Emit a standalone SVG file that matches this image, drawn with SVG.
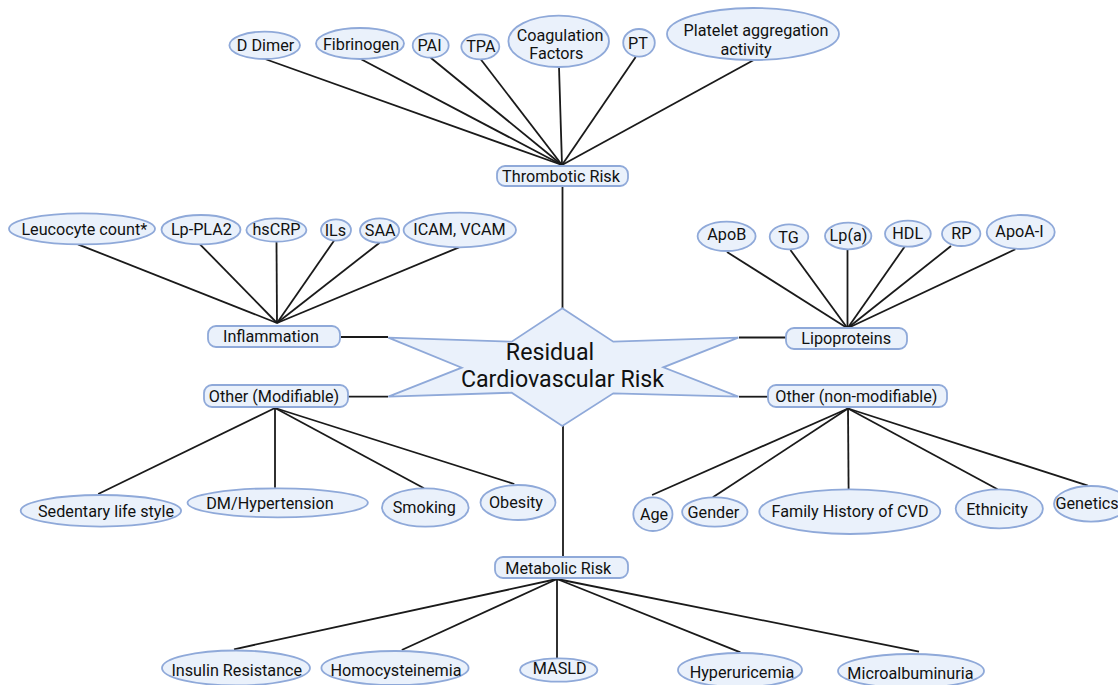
<svg xmlns="http://www.w3.org/2000/svg" width="1118" height="685" viewBox="0 0 1118 685">
<style>
.n{fill:#EAF1FB;stroke:#8FA9D9;stroke-width:1.8}
.t{font-family:Roboto,"Liberation Sans",sans-serif;font-size:16.2px;fill:#111;text-anchor:middle}
.big{font-family:Roboto,"Liberation Sans",sans-serif;font-size:23.2px;fill:#111;text-anchor:middle}
.c line{stroke:#1a1a1a;stroke-width:1.8}
</style>
<rect width="1118" height="685" fill="#fff"/>
<g class="c" id="connectors">
<line x1="265" y1="59" x2="562" y2="165"/>
<line x1="360.7" y1="59" x2="562" y2="165"/>
<line x1="430.7" y1="57.7" x2="562" y2="165"/>
<line x1="480.7" y1="59.3" x2="562" y2="165"/>
<line x1="559" y1="67" x2="562" y2="165"/>
<line x1="635.7" y1="57" x2="562" y2="165"/>
<line x1="753.3" y1="60.3" x2="562" y2="165"/>
<line x1="562.5" y1="186" x2="562.5" y2="308"/>
<line x1="78" y1="244.3" x2="277" y2="323"/>
<line x1="200" y1="244.3" x2="277" y2="323"/>
<line x1="276.5" y1="241.7" x2="277" y2="323"/>
<line x1="334" y1="240.7" x2="277" y2="323"/>
<line x1="379.6" y1="242.7" x2="277" y2="323"/>
<line x1="459" y1="247.3" x2="277" y2="323"/>
<line x1="341" y1="337" x2="388" y2="337"/>
<line x1="348" y1="396.7" x2="388" y2="396.7"/>
<line x1="727" y1="252" x2="847.5" y2="328.3"/>
<line x1="790.4" y1="250" x2="847.5" y2="328.3"/>
<line x1="847.5" y1="249.3" x2="847.5" y2="328.3"/>
<line x1="904.6" y1="246.7" x2="847.5" y2="328.3"/>
<line x1="951" y1="246" x2="847.5" y2="328.3"/>
<line x1="1015.4" y1="249.3" x2="847.5" y2="328.3"/>
<line x1="739" y1="337.5" x2="786" y2="337.5"/>
<line x1="739" y1="396.7" x2="768" y2="396.7"/>
<line x1="98.2" y1="494" x2="275" y2="408"/>
<line x1="275" y1="487.7" x2="275" y2="408"/>
<line x1="424" y1="488.3" x2="275" y2="408"/>
<line x1="514.3" y1="484" x2="275" y2="408"/>
<line x1="652.1" y1="495" x2="848" y2="408.5"/>
<line x1="712.9" y1="497.3" x2="848" y2="408.5"/>
<line x1="848.6" y1="489.3" x2="848" y2="408.5"/>
<line x1="997.5" y1="489.3" x2="848" y2="408.5"/>
<line x1="1087.9" y1="485.7" x2="848" y2="408.5"/>
<line x1="563" y1="426" x2="563" y2="557"/>
<line x1="234" y1="649.3" x2="557" y2="579"/>
<line x1="401.8" y1="650" x2="557" y2="579"/>
<line x1="557" y1="658.3" x2="557" y2="579"/>
<line x1="740.4" y1="652.3" x2="557" y2="579"/>
<line x1="919" y1="651.7" x2="557" y2="579"/>
</g>
<g id="center">
<polygon class="n" points="562.3,308.3 613.3,341.7 738.3,337.7 663.3,367.3 738.3,396.7 613.3,393.3 562.3,426 511.7,392.7 388.3,396.7 461.7,367.7 388.3,337.7 511.7,341.7"/>
<text class="big" x="550" y="360">Residual</text>
<text class="big" x="562.5" y="387">Cardiovascular Risk</text>
</g>
<g id="thrombotic"><rect class="n" x="497" y="166" width="131" height="20" rx="8"/><text class="t" x="561" y="181.5">Thrombotic Risk</text></g>
<g id="ddimer"><ellipse class="n" cx="264.7" cy="45.3" rx="35.3" ry="13.7"/><text class="t" x="265.5" y="50.5">D Dimer</text></g>
<g id="fibrinogen"><ellipse class="n" cx="360" cy="43.5" rx="44" ry="15.5"/><text class="t" x="361" y="49.5">Fibrinogen</text></g>
<g id="pai"><ellipse class="n" cx="430.7" cy="45.5" rx="18" ry="12.2"/><text class="t" x="429.5" y="51">PAI</text></g>
<g id="tpa"><ellipse class="n" cx="480.3" cy="46.8" rx="19" ry="12.5"/><text class="t" x="480.8" y="52.2">TPA</text></g>
<g id="coag"><ellipse class="n" cx="558.7" cy="41.3" rx="50.3" ry="25.7"/><text class="t" x="560" y="40.5">Coagulation</text><text class="t" x="556.3" y="58.5">Factors</text></g>
<g id="pt"><ellipse class="n" cx="639" cy="42.8" rx="15.8" ry="13.8"/><text class="t" x="638" y="48.8">PT</text></g>
<g id="platelet"><ellipse class="n" cx="753" cy="34" rx="86" ry="26"/><text class="t" x="756" y="36">Platelet aggregation</text><text class="t" x="746" y="54.5">activity</text></g>
<g id="inflammation"><rect class="n" x="208" y="326" width="132" height="21" rx="8"/><text class="t" x="271" y="342">Inflammation</text></g>
<g id="leucocyte"><ellipse class="n" cx="82" cy="228.8" rx="73" ry="15.5"/><text class="t" x="84.3" y="234.5">Leucocyte count*</text></g>
<g id="lppla2"><ellipse class="n" cx="201" cy="229.7" rx="39.5" ry="14.7"/><text class="t" x="201.4" y="234.5">Lp-PLA2</text></g>
<g id="hscrp"><ellipse class="n" cx="276.4" cy="230" rx="30" ry="11.7"/><text class="t" x="276.4" y="235">hsCRP</text></g>
<g id="ils"><ellipse class="n" cx="336" cy="230" rx="15" ry="10.7"/><text class="t" x="335.4" y="235.5">ILs</text></g>
<g id="saa"><ellipse class="n" cx="379.6" cy="230.5" rx="19.6" ry="12.2"/><text class="t" x="380.2" y="235.5">SAA</text></g>
<g id="icam"><ellipse class="n" cx="459.8" cy="230" rx="56.2" ry="17.3"/><text class="t" x="459.5" y="235">ICAM, VCAM</text></g>
<g id="othermod"><rect class="n" x="204" y="385" width="144" height="22" rx="8"/><text class="t" x="274" y="402">Other (Modifiable)</text></g>
<g id="lipoproteins"><rect class="n" x="786" y="328" width="121" height="21" rx="8"/><text class="t" x="846.2" y="343.8">Lipoproteins</text></g>
<g id="apob"><ellipse class="n" cx="726.6" cy="236.3" rx="29" ry="14.7"/><text class="t" x="726.8" y="240.3">ApoB</text></g>
<g id="tg"><ellipse class="n" cx="789" cy="236.8" rx="19.3" ry="12.5"/><text class="t" x="788.5" y="242.5">TG</text></g>
<g id="lpa"><ellipse class="n" cx="848.2" cy="236" rx="23.2" ry="13.3"/><text class="t" x="848.5" y="241">Lp(a)</text></g>
<g id="hdl"><ellipse class="n" cx="907.9" cy="233.7" rx="22.9" ry="13"/><text class="t" x="907.7" y="238.5">HDL</text></g>
<g id="rp"><ellipse class="n" cx="961.2" cy="233.8" rx="19.2" ry="12.2"/><text class="t" x="961.4" y="239">RP</text></g>
<g id="apoa"><ellipse class="n" cx="1020.7" cy="232" rx="34" ry="17"/><text class="t" x="1019.5" y="236.5">ApoA-I</text></g>
<g id="othernon"><rect class="n" x="768" y="385" width="179" height="22" rx="8"/><text class="t" x="856.4" y="402">Other (non-modifiable)</text></g>
<g id="sedentary"><ellipse class="n" cx="100.9" cy="510.8" rx="80.2" ry="15.8"/><text class="t" x="106" y="517">Sedentary life style</text></g>
<g id="dm"><ellipse class="n" cx="277.7" cy="502.8" rx="90.2" ry="14.5"/><text class="t" x="270" y="508.5">DM/Hypertension</text></g>
<g id="smoking"><ellipse class="n" cx="425.3" cy="507.5" rx="43.3" ry="19.2"/><text class="t" x="424.3" y="513">Smoking</text></g>
<g id="obesity"><ellipse class="n" cx="518" cy="502.5" rx="37.5" ry="17.5"/><text class="t" x="516" y="507.5">Obesity</text></g>
<g id="age"><ellipse class="n" cx="652.9" cy="514.2" rx="19.6" ry="16.8"/><text class="t" x="654" y="520">Age</text></g>
<g id="gender"><ellipse class="n" cx="714.8" cy="512" rx="32.7" ry="14.7"/><text class="t" x="713.4" y="517.5">Gender</text></g>
<g id="family"><ellipse class="n" cx="849.8" cy="511.7" rx="90.5" ry="22.3"/><text class="t" x="850" y="516.8">Family History of CVD</text></g>
<g id="ethnicity"><ellipse class="n" cx="999.3" cy="508.8" rx="43.6" ry="19.5"/><text class="t" x="997" y="514.5">Ethnicity</text></g>
<g id="genetics"><ellipse class="n" cx="1091" cy="503.8" rx="37" ry="17.8"/><text class="t" x="1055.5" y="508.5" style="text-anchor:start">Genetics</text></g>
<g id="metabolic"><rect class="n" x="495" y="557" width="133" height="21" rx="8"/><text class="t" x="558.3" y="574">Metabolic Risk</text></g>
<g id="insulin"><ellipse class="n" cx="236" cy="668" rx="74" ry="17.5"/><text class="t" x="236.8" y="675.5">Insulin Resistance</text></g>
<g id="homocys"><ellipse class="n" cx="395" cy="668" rx="73.6" ry="17"/><text class="t" x="396" y="675.5">Homocysteinemia</text></g>
<g id="masld"><ellipse class="n" cx="558.7" cy="670" rx="38.7" ry="11.7"/><text class="t" x="559.7" y="674">MASLD</text></g>
<g id="hyperuric"><ellipse class="n" cx="740" cy="670" rx="62" ry="17"/><text class="t" x="742" y="677.5">Hyperuricemia</text></g>
<g id="microalb"><ellipse class="n" cx="911" cy="671" rx="73" ry="17"/><text class="t" x="910.4" y="678.5">Microalbuminuria</text></g>
</svg>
